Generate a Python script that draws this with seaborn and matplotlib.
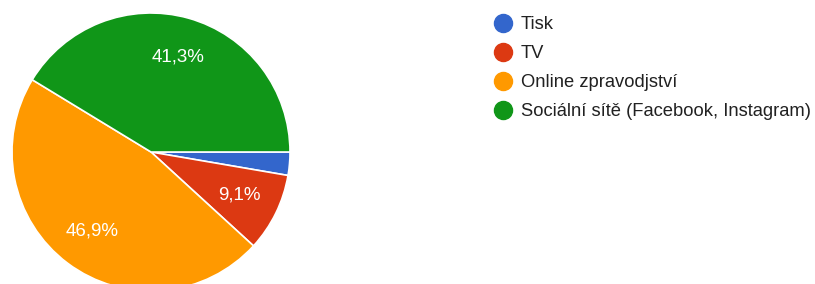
import matplotlib
matplotlib.use('Agg')
import matplotlib.pyplot as plt
from matplotlib.lines import Line2D
import seaborn as sns

# survey answers (share in %)
categories = ['Tisk', 'TV', 'Online zpravodjství', 'Sociální sítě (Facebook, Instagram)']
shares = [2.7, 9.1, 46.9, 41.3]
colors = ['#3366cc', '#dc3912', '#ff9900', '#109618']

sns.set_theme(style='white')
plt.rcParams['font.family'] = ['Liberation Sans', 'DejaVu Sans']

W, H = 815, 284
fig = plt.figure(figsize=(W / 100, H / 100), dpi=100)

# pie centre ~ (151, 152) px, radius ~139 px
r = 139
cx, cy = 151, 152
ax = fig.add_axes([(cx - r) / W, (H - cy - r) / H, 2 * r / W, 2 * r / H])


def fmt(p):
    # only label slices big enough, comma as decimal separator
    return f'{p:.1f}%'.replace('.', ',') if p > 5 else ''


wedges, texts, autotexts = ax.pie(
    shares, colors=colors, startangle=0, counterclock=False,
    autopct=fmt, pctdistance=0.71,
    wedgeprops=dict(edgecolor='white', linewidth=1.2),
    textprops=dict(color='white', fontsize=13.5))
ax.set_xlim(-1, 1)
ax.set_ylim(-1, 1)
ax.set_aspect('equal')
ax.axis('off')
for w in wedges:
    w.set_clip_on(False)

handles = [Line2D([0], [0], marker='o', linestyle='', markersize=13,
                  markerfacecolor=c, markeredgecolor=c) for c in colors]
fig.legend(handles, categories, loc='upper left',
           bbox_to_anchor=(485 / W, 1 - 9 / H), frameon=False,
           fontsize=13.2, labelcolor='#212121', handletextpad=0.35,
           labelspacing=0.65, handlelength=1.2, borderaxespad=0)

fig.savefig('out.png', dpi=100)
